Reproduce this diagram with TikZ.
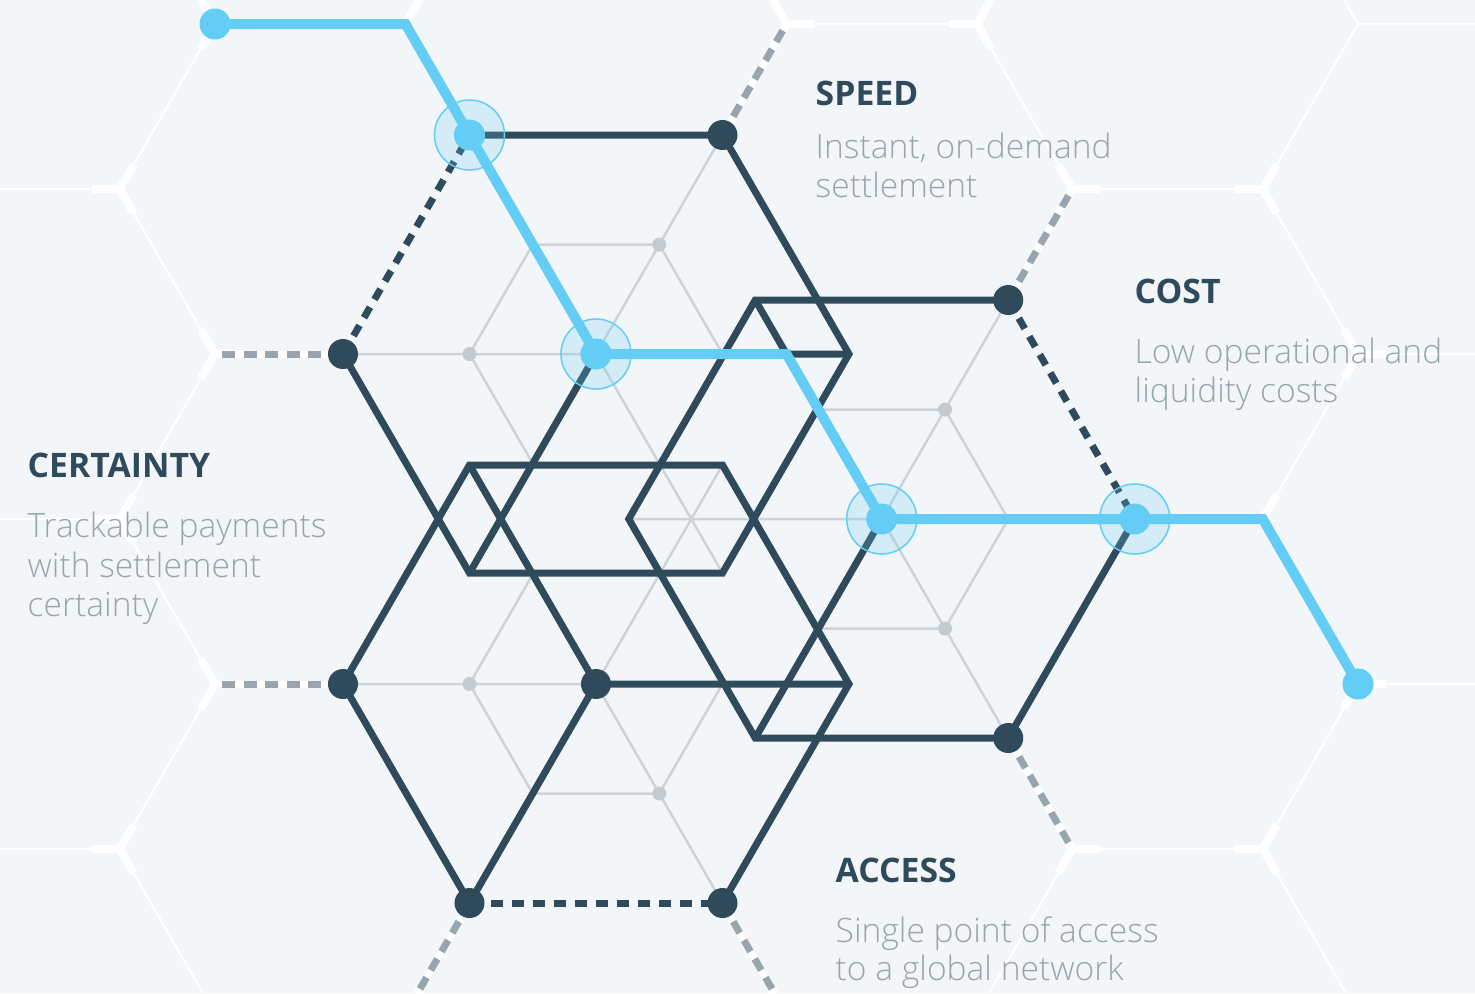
\documentclass[tikz,border=0pt]{standalone}
\usepackage{fontspec}
\setmainfont{Open Sans}
\IfFontExistsTF{Open Sans Light}
  {\newfontfamily\lightfont{Open Sans Light}}
  {\newfontfamily\lightfont{Open Sans}}
\usetikzlibrary{calc}

\definecolor{paper}{HTML}{F3F6F9}
\definecolor{ink}{HTML}{2F4B5B}
\definecolor{sky}{HTML}{63CDF5}
\definecolor{mesh}{HTML}{CDD4D9}
\definecolor{meshdot}{HTML}{C3CBD0}
\definecolor{plug}{HTML}{98A5AD}
\definecolor{note}{HTML}{97A6AD}

\tikzset{
  bgline/.style={white,opacity=0.85,line width=0.02cm},
  stub/.style={white,line width=0.08cm,line join=miter},
  plugbase/.style={white,line width=0.07cm},
  plugline/.style={plug,line width=0.07cm,dash pattern=on 0.13cm off 0.085cm},
  meshline/.style={mesh,line width=0.025cm},
  inkline/.style={ink,line width=0.07cm,line join=miter},
  inkdash/.style={ink,line width=0.07cm,dash pattern=on 0.12cm off 0.09cm},
  route/.style={sky,line width=0.1cm,line join=miter},
  halo/.style={fill=sky,fill opacity=0.22,draw=sky,line width=0.015cm},
  head/.style={anchor=base west,inner sep=0pt,text=ink,font=\fontsize{9.6}{11}\selectfont\bfseries},
  desc/.style={anchor=base west,inner sep=0pt,text=note,font=\lightfont\fontsize{9.55}{11}\selectfont}
}

\begin{document}
\begin{tikzpicture}[x=0.01cm,y=-0.01cm]
    \fill[paper] (0,0) rectangle (1475,993);
    \useasboundingbox (0,0) rectangle (1475,993);

    % background honeycomb
    \begin{scope}
        \clip (0,0) rectangle (1475,993);
        \foreach \hx in {24.5,596,1167.5}
            \foreach \hy in {24,354,684,1014}
                \draw[bgline] (\hx-190.5,\hy) -- (\hx-95.25,\hy-165) -- (\hx+95.25,\hy-165)
                    -- (\hx+190.5,\hy) -- (\hx+95.25,\hy+165) -- (\hx-95.25,\hy+165) -- cycle;
        \foreach \hx in {310.25,881.75,1453.25}
            \foreach \hy in {-141,189,519,849}
                \draw[bgline] (\hx-190.5,\hy) -- (\hx-95.25,\hy-165) -- (\hx+95.25,\hy-165)
                    -- (\hx+190.5,\hy) -- (\hx+95.25,\hy+165) -- (\hx-95.25,\hy+165) -- cycle;
    \end{scope}

    % the three hexagons
    \coordinate (a) at (596,354);
    \coordinate (al) at (343,354);
    \coordinate (atl) at (469.5,135);
    \coordinate (atr) at (722.5,135);
    \coordinate (ar) at (849,354);
    \coordinate (abr) at (722.5,573);
    \coordinate (abl) at (469.5,573);

    \coordinate (b) at (596,684);
    \coordinate (bl) at (343,684);
    \coordinate (btl) at (469.5,465);
    \coordinate (btr) at (722.5,465);
    \coordinate (br) at (849,684);
    \coordinate (bbr) at (722.5,903);
    \coordinate (bbl) at (469.5,903);

    \coordinate (c) at (881.75,519);
    \coordinate (cl) at (628.75,519);
    \coordinate (ctl) at (755.25,300);
    \coordinate (ctr) at (1008.25,300);
    \coordinate (cr) at (1134.75,519);
    \coordinate (cbr) at (1008.25,738);
    \coordinate (cbl) at (755.25,738);

    % sockets of the honeycomb
    \coordinate (s0) at (215,24);
    \coordinate (s1) at (405.5,24);
    \coordinate (s2) at (1262.75,519);
    \coordinate (s3) at (1358,684);
    \coordinate (pa) at (215,354);
    \coordinate (pb) at (786.5,24);
    \coordinate (pc) at (215,684);
    \coordinate (pd) at (405.5,1014);
    \coordinate (pe) at (786.5,1014);
    \coordinate (pf) at (1072.25,189);
    \coordinate (pg) at (1072.25,849);
    \coordinate (bend) at (intersection of a--ar and ctl--c);

    \fill[paper] (al) -- (atl) -- (atr) -- (ar) -- (abr) -- (abl) -- cycle;
    \fill[paper] (bl) -- (btl) -- (btr) -- (br) -- (bbr) -- (bbl) -- cycle;
    \fill[paper] (cl) -- (ctl) -- (ctr) -- (cr) -- (cbr) -- (cbl) -- cycle;

    \foreach \x/\y in {119.75/189,119.75/519,119.75/849,405.5/24,977/24,1262.75/189,1262.75/519,1262.75/849}
        \draw[stub] (\x-28,\y) -- (\x,\y) -- (\x+14,\y-24.2) (\x,\y) -- (\x+14,\y+24.2);
    \foreach \x/\y in {215/24,215/354,215/684,786.5/24,1072.25/189,1358/354,1358/684,1072.25/849}
        \draw[stub] (\x+28,\y) -- (\x,\y) -- (\x-14,\y-24.2) (\x,\y) -- (\x-14,\y+24.2);

    \foreach \u/\v in {al/pa,atr/pb,bl/pc,bbl/pd,bbr/pe,ctr/pf,cbr/pg}
    {
        \draw[plugbase] (\u) -- (\v);
        \draw[plugline] (\u) -- (\v);
    }

    % inner mesh
    \foreach \h in {a,b,c}
    {
        \draw[meshline] ($(\h)!.5!(\h l)$) -- ($(\h)!.5!(\h tl)$) -- ($(\h)!.5!(\h tr)$)
            -- ($(\h)!.5!(\h r)$) -- ($(\h)!.5!(\h br)$) -- ($(\h)!.5!(\h bl)$) -- cycle;
        \draw[meshline] (\h l) -- (\h r) (\h tl) -- (\h br) (\h tr) -- (\h bl);
    }
    \foreach \u/\v in {a/al,a/atr,b/bl,b/bbr,c/ctr,c/cbr}
        \fill[meshdot] ($(\u)!.5!(\v)$) circle (0.07cm);

    % cubes
    \draw[inkline] (atl) -- (atr) -- (ar) -- (abr) -- (abl) -- (al);
    \draw[inkdash] (al) -- (atl);
    \draw[inkline] (atl) -- (a) -- (ar) (a) -- (abl);

    \draw[inkline] (bbr) -- (br) -- (btr) -- (btl) -- (bl) -- (bbl);
    \draw[inkdash] (bbl) -- (bbr);
    \draw[inkline] (btl) -- (b) -- (br) (b) -- (bbl);

    \draw[inkline] (cr) -- (cbr) -- (cbl) -- (cl) -- (ctl) -- (ctr);
    \draw[inkdash] (ctr) -- (cr);
    \draw[inkline] (ctl) -- (c) -- (cr) (c) -- (cbl);

    \foreach \p in {atr,al,ctr,bl,b,cbr,bbl,bbr}
        \fill[ink] (\p) circle (0.15cm);

    % payment route
    \foreach \p in {atl,a,c,cr}
        \filldraw[halo] (\p) circle (0.35cm);
    \draw[route] (s0) -- (s1) -- (atl) -- (a) -- (bend) -- (c) -- (cr) -- (s2) -- (s3);
    \foreach \p in {s0,atl,a,c,cr,s3}
        \fill[sky] (\p) circle (0.155cm);

    % labels
    \node[head] (speed) at (815,105) {SPEED};
    \node[desc] (speeda) at (815,158) {Instant, on-demand};
    \node[desc] (speedb) at (815,197) {settlement};

    \node[head] (cost) at (1134,303) {COST};
    \node[desc] (costa) at (1134,363) {Low operational and};
    \node[desc] (costb) at (1134,402) {liquidity costs};

    \node[head] (certainty) at (27,477) {CERTAINTY};
    \node[desc] (certaintya) at (27,537) {Trackable payments};
    \node[desc] (certaintyb) at (27,577) {with settlement};
    \node[desc] (certaintyc) at (27,616) {certainty};

    \node[head] (access) at (835,882) {ACCESS};
    \node[desc] (accessa) at (835,942) {Single point of access};
    \node[desc] (accessb) at (835,980) {to a global network};
\end{tikzpicture}
\end{document}
